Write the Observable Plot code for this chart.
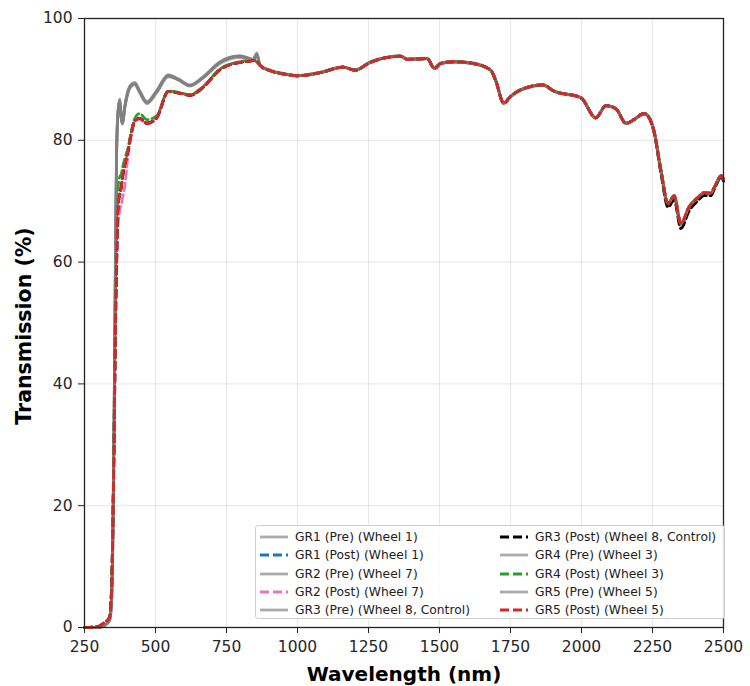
<!DOCTYPE html>
<html>
<head>
<meta charset="utf-8">
<script src="https://cdn.jsdelivr.net/npm/d3@7"></script>
<script src="https://cdn.jsdelivr.net/npm/@observablehq/plot@0.6"></script>
<style>
  html, body { margin: 0; padding: 0; background: #fff; }
  #wrap { position: relative; width: 750px; height: 686px; font-family: "DejaVu Sans", sans-serif; }
  #legend {
    position: absolute; left: 255px; top: 525px; width: 470px; height: 94px;
    box-sizing: border-box; border: 1px solid #cfcfcf; border-radius: 3px;
    background: rgba(255,255,255,0.85);
    display: grid; grid-template-columns: 240px 230px; grid-auto-flow: column;
    grid-template-rows: repeat(5, 18.3px); padding-top: 2px;
    font-size: 12.3px; color: #222;
  }
  .item { display: flex; align-items: center; padding-left: 4px; white-space: nowrap; }
  .item svg { margin-right: 7px; flex: none; }
</style>
</head>
<body>
<div id="wrap"><div id="chart"></div><div id="legend"></div></div>
<script>
// Wavelength grid (nm)
const wavelength = [250, 300, 320, 338, 345, 350, 355, 359, 363, 366, 370, 374, 380, 384, 392, 402, 414, 427, 444, 470, 504, 545, 580, 621, 667, 727, 797, 830, 843, 857, 868, 900, 950, 1000, 1080, 1160, 1203, 1256, 1316, 1362, 1387, 1457, 1482, 1503, 1549, 1620, 1680, 1698, 1726, 1750, 1786, 1864, 1903, 1998, 2050, 2086, 2121, 2157, 2185, 2220, 2234, 2255, 2280, 2305, 2326, 2350, 2378, 2410, 2432, 2455, 2467, 2492, 2500];

// Transmission (%) per series
const gr1Pre  = [0, 0, 0.3, 1.2, 4, 15, 38, 60, 78, 83, 85.5, 86.5, 83.5, 82.8, 85.5, 87.8, 89, 89.3, 88, 86.2, 88, 90.6, 90, 89, 90.3, 92.8, 93.8, 93.4, 93.2, 94.2, 92.3, 91.5, 90.9, 90.6, 91.1, 92, 91.5, 92.8, 93.6, 93.8, 93.3, 93.4, 91.8, 92.6, 92.9, 92.6, 91.5, 89.8, 86.1, 87.2, 88.3, 89.1, 88.1, 87, 83.7, 85.7, 85.2, 82.8, 83.4, 84.4, 84, 81.6, 75, 69.6, 70.9, 66.3, 69, 70.6, 71.4, 71.3, 72.2, 74.2, 73.6];
const gr1Post = [0, 0.2, 0.8, 1.6, 6, 17, 34, 50, 60, 67, 70.5, 71.5, 72.5, 74, 76, 78, 81, 83.2, 83.6, 82.8, 83.7, 88, 87.8, 87.4, 88.7, 91.6, 92.8, 93, 93.1, 93, 92.3, 91.5, 90.9, 90.6, 91.1, 92, 91.5, 92.8, 93.6, 93.8, 93.3, 93.4, 91.8, 92.6, 92.9, 92.6, 91.5, 89.8, 86.1, 87.2, 88.3, 89.1, 88.1, 87, 83.7, 85.7, 85.2, 82.8, 83.4, 84.4, 84, 81.6, 75, 69.6, 70.9, 66.3, 69, 70.6, 71.4, 71.3, 72.2, 74.2, 73.6];
const gr2Pre  = [0, 0, 0.3, 1.1, 4, 14, 37, 59, 77, 82.5, 85.2, 86.0, 83.3, 82.6, 85.3, 87.6, 88.8, 89.1, 87.8, 86.0, 87.8, 90.4, 89.9, 88.9, 90.2, 92.6, 93.6, 93.2, 93.1, 93.8, 92.2, 91.5, 90.9, 90.6, 91.1, 92, 91.5, 92.8, 93.6, 93.8, 93.3, 93.4, 91.8, 92.6, 92.9, 92.6, 91.5, 89.8, 86.1, 87.2, 88.3, 89.1, 88.1, 87, 83.7, 85.7, 85.2, 82.8, 83.4, 84.4, 84, 81.6, 75, 69.6, 70.9, 66.3, 69, 70.6, 71.4, 71.3, 72.2, 74.2, 73.6];
const gr2Post = [0, 0.2, 0.8, 1.6, 6, 17, 34, 49, 58, 64, 67, 68.5, 69.5, 70.5, 72.5, 77, 80.5, 83.1, 83.5, 82.7, 83.6, 88, 87.8, 87.4, 88.6, 91.6, 92.8, 93, 93.1, 93, 92.3, 91.5, 90.9, 90.6, 91.1, 92, 91.5, 92.8, 93.6, 93.8, 93.3, 93.4, 91.8, 92.6, 92.9, 92.6, 91.5, 89.8, 86.1, 87.2, 88.3, 89.1, 88.1, 87, 83.7, 85.7, 85.2, 82.8, 83.4, 84.4, 84, 81.6, 75, 69.6, 70.9, 66.3, 69, 70.6, 71.4, 71.3, 72.2, 74.2, 73.6];
const gr3Pre  = [0, 0, 0.3, 1.3, 4, 16, 39, 61, 79, 83.3, 85.8, 86.8, 83.7, 83.0, 85.7, 88.0, 89.2, 89.5, 88.2, 86.4, 88.2, 90.8, 90.1, 89.1, 90.4, 92.9, 93.9, 93.5, 93.3, 94.0, 92.4, 91.6, 91.0, 90.7, 91.2, 92.1, 91.6, 92.9, 93.7, 93.9, 93.4, 93.5, 91.9, 92.7, 93.0, 92.7, 91.6, 89.9, 86.0, 87.1, 88.2, 89.0, 88.0, 86.9, 83.6, 85.6, 85.1, 82.7, 83.3, 84.3, 83.9, 81.4, 74.6, 69.2, 70.5, 65.9, 68.6, 70.3, 71.1, 71.0, 72.0, 74.0, 73.4];
const gr3Post = [0, 0.2, 0.8, 1.6, 6, 17, 34, 50, 60, 67, 70, 71, 72.5, 74, 76, 78, 81, 83.2, 83.6, 82.8, 83.7, 88, 87.8, 87.4, 88.7, 91.6, 92.8, 93, 93.1, 93, 92.3, 91.5, 90.9, 90.6, 91.1, 92, 91.5, 92.8, 93.6, 93.8, 93.3, 93.4, 91.8, 92.6, 92.9, 92.6, 91.5, 89.8, 86.1, 87.2, 88.3, 89.1, 88.1, 87, 83.7, 85.7, 85.2, 82.8, 83.4, 84.4, 84, 81.4, 74.5, 69, 70.2, 65.5, 68.3, 70.1, 70.9, 70.9, 71.9, 74.0, 73.3];
const gr4Pre  = [0, 0, 0.3, 1.2, 4, 15, 38, 60, 78, 83, 85.5, 86.4, 83.5, 82.8, 85.5, 87.8, 89, 89.3, 88, 86.2, 88, 90.6, 90, 89, 90.3, 92.8, 93.8, 93.4, 93.2, 94.1, 92.3, 91.5, 90.9, 90.6, 91.1, 92, 91.5, 92.8, 93.6, 93.8, 93.3, 93.4, 91.8, 92.6, 92.9, 92.6, 91.5, 89.8, 86.1, 87.2, 88.3, 89.1, 88.1, 87, 83.7, 85.7, 85.2, 82.8, 83.4, 84.4, 84, 81.6, 75, 69.6, 70.9, 66.3, 69, 70.6, 71.4, 71.3, 72.2, 74.2, 73.6];
const gr4Post = [0, 0.2, 0.8, 1.6, 6, 18, 36, 53, 64, 70, 73, 74, 74.5, 75.5, 77, 78.5, 81.3, 83.6, 84.4, 83.4, 84.0, 88.1, 87.9, 87.5, 88.8, 91.7, 92.9, 93.1, 93.2, 92.8, 92.3, 91.5, 90.9, 90.6, 91.1, 92, 91.5, 92.8, 93.6, 93.8, 93.3, 93.4, 91.8, 92.6, 92.9, 92.6, 91.5, 89.8, 86.1, 87.2, 88.3, 89.1, 88.1, 87, 83.7, 85.7, 85.2, 82.8, 83.4, 84.4, 84, 81.6, 75, 69.6, 70.9, 66.3, 69, 70.6, 71.4, 71.3, 72.2, 74.2, 73.6];
const gr5Pre  = [0, 0, 0.3, 1.2, 4, 15, 38, 60, 78, 83, 85.5, 86.5, 83.5, 82.8, 85.5, 87.8, 89, 89.3, 88, 86.2, 88, 90.6, 90, 89, 90.3, 92.8, 93.8, 93.4, 93.2, 94.4, 92.3, 91.5, 90.9, 90.6, 91.1, 92, 91.5, 92.8, 93.6, 93.8, 93.3, 93.4, 91.8, 92.6, 92.9, 92.6, 91.5, 89.8, 86.1, 87.2, 88.3, 89.1, 88.1, 87, 83.7, 85.7, 85.2, 82.8, 83.4, 84.4, 84, 81.6, 75, 69.6, 70.9, 66.3, 69, 70.6, 71.4, 71.3, 72.2, 74.2, 73.6];
const gr5Post = [0, 0.2, 0.8, 1.6, 6, 17, 34, 50, 60, 67, 70, 71, 72.5, 74, 76, 78, 81, 83.2, 83.6, 82.8, 83.7, 88, 87.8, 87.4, 88.7, 91.6, 92.8, 93, 93.1, 93, 92.3, 91.5, 90.9, 90.6, 91.1, 92, 91.5, 92.8, 93.6, 93.8, 93.3, 93.4, 91.8, 92.6, 92.9, 92.6, 91.5, 89.8, 86.1, 87.2, 88.3, 89.1, 88.1, 87, 83.7, 85.7, 85.2, 82.8, 83.4, 84.4, 84, 81.6, 75, 69.6, 70.9, 66.3, 69, 70.6, 71.4, 71.3, 72.2, 74.2, 73.6];

const seriesNames = [
  "GR1 (Pre) (Wheel 1)", "GR1 (Post) (Wheel 1)",
  "GR2 (Pre) (Wheel 7)", "GR2 (Post) (Wheel 7)",
  "GR3 (Pre) (Wheel 8, Control)", "GR3 (Post) (Wheel 8, Control)",
  "GR4 (Pre) (Wheel 3)", "GR4 (Post) (Wheel 3)",
  "GR5 (Pre) (Wheel 5)", "GR5 (Post) (Wheel 5)"
];
const seriesValues = [gr1Pre, gr1Post, gr2Pre, gr2Post, gr3Pre, gr3Post, gr4Pre, gr4Post, gr5Pre, gr5Post];
const seriesColors = ["#808080", "#1f77b4", "#808080", "#e377c2", "#808080", "#000000", "#808080", "#2ca02c", "#808080", "#d62728"];
const seriesDashed = [false, true, false, true, false, true, false, true, false, true];

const xTicks = [250, 500, 750, 1000, 1250, 1500, 1750, 2000, 2250, 2500];
const yTicks = [0, 20, 40, 60, 80, 100];

const rows = seriesNames.flatMap((name, i) =>
  wavelength.map((w, j) => ({ name, w, v: seriesValues[i][j] })));

const lineMarks = seriesNames.map((name, i) =>
  Plot.line(rows.filter(d => d.name === name), {
    x: "w", y: "v",
    stroke: seriesColors[i],
    strokeWidth: 2.8,
    strokeOpacity: seriesDashed[i] ? 1 : 0.65,
    strokeDasharray: seriesDashed[i] ? "8,4" : null,
    curve: "monotone-x"
  }));

const chart = Plot.plot({
  width: 750, height: 686,
  marginLeft: 84, marginRight: 27, marginTop: 18, marginBottom: 59,
  style: { fontFamily: "DejaVu Sans, sans-serif", fontSize: "15.5px", color: "#262626", background: "#fff" },
  x: { domain: [250, 2500] },
  y: { domain: [0, 100] },
  marks: [
    Plot.gridX(xTicks, { stroke: "#b0b0b0", strokeOpacity: 0.35, strokeWidth: 0.9 }),
    Plot.gridY(yTicks, { stroke: "#b0b0b0", strokeOpacity: 0.35, strokeWidth: 0.9 }),
    ...lineMarks,
    Plot.frame({ stroke: "#222", strokeWidth: 1.3 }),
    Plot.axisX(xTicks, { tickSize: 6, tickPadding: 7, label: null, stroke: "#222", tickFormat: d => String(d) }),
    Plot.axisY(yTicks, { tickSize: 6, tickPadding: 6, label: null, stroke: "#222", tickFormat: d => String(d) }),
    Plot.text(["Wavelength (nm)"], { frameAnchor: "bottom", dy: 53, fontWeight: "bold", fontSize: 20, fill: "#000" }),
    Plot.text(["Transmission (%)"], { frameAnchor: "left", textAnchor: "middle", dx: -60, dy: 3, rotate: -90, fontWeight: "bold", fontSize: 20.5, fill: "#000" })
  ]
});
document.getElementById("chart").appendChild(chart);

// Legend
const legend = document.getElementById("legend");
seriesNames.forEach((name, i) => {
  const item = document.createElement("div");
  item.className = "item";
  const dash = seriesDashed[i] ? ' stroke-dasharray="9,4"' : '';
  const op = seriesDashed[i] ? 1 : 0.65;
  item.innerHTML = `<svg width="28" height="6"><line x1="0" y1="3" x2="28" y2="3" stroke="${seriesColors[i]}" stroke-opacity="${op}" stroke-width="2.8"${dash}/></svg><span>${name}</span>`;
  legend.appendChild(item);
});
</script>
</body>
</html>
